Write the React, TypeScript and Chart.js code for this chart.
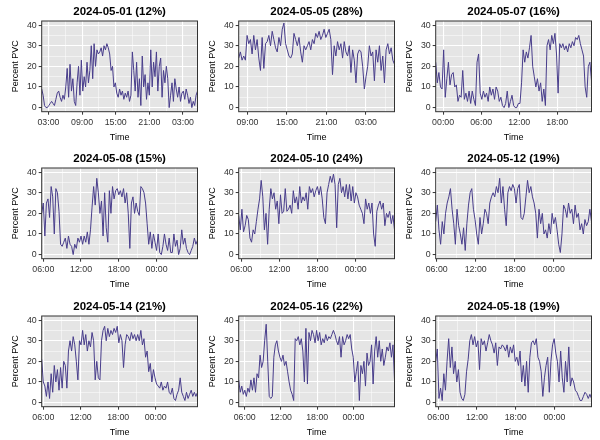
import React, { useEffect, useRef } from 'react';
import { Chart, registerables } from 'chart.js';

Chart.register(...registerables);

const titles = [
  '2024-05-01 (12%)', '2024-05-05 (28%)', '2024-05-07 (16%)',
  '2024-05-08 (15%)', '2024-05-10 (24%)', '2024-05-12 (19%)',
  '2024-05-14 (21%)', '2024-05-16 (22%)', '2024-05-18 (19%)',
];

// hours relative to midnight of the panel's first day
const startHours = [1.8, 7.67, -1.17, 5.75, 5.6, 5.85, 5.75, 5.0, 5.6];
const endHours = [29.6, 31.33, 23.4, 30.5, 30.1, 29.8, 30.7, 30.8, 29.75];

const xMajorTicks = [
  [3, 9, 15, 21, 27], [9, 15, 21, 27], [0, 6, 12, 18],
  [6, 12, 18, 24], [6, 12, 18, 24], [6, 12, 18, 24],
  [6, 12, 18, 24], [6, 12, 18, 24], [6, 12, 18, 24],
];
const yMajorTicks = [0, 10, 20, 30, 40];
const yMinorTicks = [5, 15, 25, 35];

const pvc0501 = [
  9, 6, 1, 0, 0,
  1, 2, 3, 2, 1, 4, 7, 8, 5, 3, 6, 4,
  10, 19, 5, 21, 8, 14, 3, 1, 12, 20, 6, 23,
  8, 15, 10, 22, 12, 18, 30, 14, 31, 20, 28, 26,
  27, 29, 25, 30, 28, 31, 29, 26, 18, 20, 10, 12,
  7, 5, 9, 6, 8, 4, 7, 5, 8, 3, 6, 27,
  18, 8, 22, 5, 14, 1, 25, 10, 16, 4, 12, 6,
  28, 10, 22, 15, 27, 8, 20, 24, 5, 18, 12, 20,
  14, 0, 6, 12, 3, 14, 9, 5, 10, 3, 7, 8,
  4, 9, 6, 2, 5, 0, 3, 1, 6, 8,
];
const pvc0505 = [
  24, 27, 23, 25, 23,
  35, 31, 33, 26, 35, 28, 33, 24, 18, 34, 19, 31,
  32, 35, 30, 37, 33, 29, 27, 34, 30, 38, 41, 31,
  28, 25, 24, 26, 36, 33, 30, 34, 27, 22, 30, 28,
  30, 32, 28, 33, 31, 36, 34, 37, 33, 35, 38, 34,
  36, 38, 33, 16, 30, 25, 32, 28, 31, 24, 32, 27,
  25, 30, 17, 28, 23, 12, 26, 28, 27, 20, 9, 15,
  20, 30, 25, 27, 13, 28, 22, 30, 18, 25, 12, 28,
  31, 26, 29, 23, 21,
];
const pvc0507 = [
  22, 12, 17, 10, 9,
  28, 5, 14, 22, 11, 16, 17, 10, 11, 3, 6, 5, 18, 4, 7, 3, 8, 2, 8, 4, 1, 22, 26, 7,
  4, 8, 5, 7, 3, 10, 6, 9, 4, 10, 8, 3, 5, 1, 0, 2, 8, 0, 3, 6, 1, 0, 0, 2,
  2, 12, 28, 22, 27, 24, 29, 35, 20, 15, 10, 14, 8, 12, 3, 9, 1, 30, 33, 28, 35, 31, 36, 26,
  7, 31, 29, 31, 28, 30, 27, 31, 29, 32, 30, 34, 33, 35, 31, 28, 25, 10, 5, 20, 22, 13,
];
const pvc0508 = [
  20, 25,
  9, 25, 27, 18, 33, 28, 10, 32, 30, 21, 5, 4, 6, 8, 3, 9, 5, 4, 0, 5, 3, 8, 6, 9,
  5, 9, 6, 11, 5, 12, 23, 33, 24, 37, 30, 20, 26, 9, 30, 13, 6, 31, 20, 33, 27, 31, 32, 29,
  31, 28, 32, 25, 30, 20, 3, 25, 28, 20, 25, 21, 19, 33, 32, 30, 25, 15, 5, 11, 3, 10, 6, 2,
  10, 1, 0, 4, 10, 5, 2, 8, 1, 1, 10, 4, 7, 0, 3, 12, 5, 8, 3, 1, 0, 2, 4, 8, 5, 7,
];
const pvc0510 = [
  19, 12,
  22, 11, 14, 19, 17, 8, 6, 12, 10, 16, 22, 27, 36, 28, 12, 20, 5, 22, 32, 27, 30, 22, 26, 15,
  29, 20, 21, 32, 21, 22, 24, 20, 31, 25, 28, 22, 33, 25, 28, 26, 30, 22, 33, 30, 32, 28, 31, 33,
  29, 33, 27, 18, 15, 30, 34, 38, 35, 39, 34, 13, 34, 37, 30, 33, 28, 34, 27, 34, 26, 33, 25, 30,
  28, 24, 22, 20, 15, 27, 22, 25, 20, 25, 10, 4, 21, 24, 26, 22, 25, 14, 20, 18, 21, 15, 19, 12,
];
const pvc0512 = [
  16,
  24, 12, 5, 16, 10, 20, 25, 28, 32, 22, 15, 5, 22, 14, 10, 5, 13, 2, 15, 24, 30, 32, 22, 17,
  10, 5, 18, 10, 15, 22, 20, 15, 25, 28, 30, 28, 33, 30, 37, 25, 33, 22, 14, 30, 33, 31, 34, 32,
  25, 32, 34, 18, 17, 20, 28, 36, 30, 33, 28, 25, 20, 8, 22, 15, 20, 10, 12, 8, 15, 10, 20, 15,
  18, 12, 5, 1, 10, 24, 22, 18, 25, 20, 22, 15, 24, 18, 20, 12, 15, 10, 17, 14, 16, 22, 16,
];
const pvc0514 = [
  21, 10,
  8, 3, 10, 2, 14, 5, 18, 10, 16, 6, 17, 7, 20, 18, 7, 25, 30, 25, 32, 28, 20, 11, 30, 28,
  35, 28, 33, 25, 30, 27, 34, 30, 11, 20, 12, 11, 30, 35, 37, 30, 36, 32, 35, 33, 36, 34, 37, 29,
  33, 30, 17, 28, 33, 32, 30, 34, 31, 33, 30, 33, 30, 35, 28, 31, 22, 25, 15, 19, 10, 16, 12, 9,
  8, 7, 10, 6, 8, 7, 10, 5, 4, 7, 2, 1, 4, 6, 12, 5, 3, 1, 5, 2, 4, 6, 3, 5, 3, 5,
];
const pvc0516 = [
  11, 5, 8, 4,
  6, 3, 7, 5, 11, 6, 12, 5, 14, 12, 23, 17, 20, 30, 38, 20, 3, 2, 3, 22, 28, 30, 25, 22,
  20, 23, 18, 20, 15, 10, 6, 4, 1, 31, 30, 32, 28, 31, 25, 10, 36, 9, 34, 30, 35, 33, 29, 35,
  30, 34, 28, 31, 29, 33, 30, 32, 31, 33, 35, 33, 30, 28, 32, 22, 32, 28, 30, 33, 31, 33, 26, 22,
  10, 15, 20, 1, 18, 14, 20, 8, 24, 18, 20, 28, 9, 25, 32, 22, 30, 20, 26, 18, 22, 27, 25, 29, 22, 28, 11,
];
const pvc0518 = [
  20, 26,
  2, 7, 1, 14, 6, 20, 31, 17, 27, 14, 20, 10, 16, 5, 2, 1, 4, 15, 21, 30, 33, 28, 32, 27,
  30, 16, 31, 28, 30, 25, 29, 33, 30, 28, 24, 29, 18, 27, 26, 28, 27, 25, 28, 22, 27, 24, 28, 20,
  22, 18, 25, 10, 18, 8, 20, 5, 22, 29, 30, 28, 31, 22, 20, 15, 3, 12, 18, 22, 5, 20, 28, 31,
  24, 20, 10, 25, 12, 5, 20, 10, 27, 8, 12, 10, 6, 5, 3, 1, 1, 3, 5, 4, 2, 4, 2,
];

const seriesList = [pvc0501, pvc0505, pvc0507, pvc0508, pvc0510, pvc0512, pvc0514, pvc0516, pvc0518];

const FONT = "'Liberation Sans', Arial, sans-serif";
const LINE_COLOR = '#483D8B';
const PANEL_BG = '#E5E5E5';
const CELL_W = 198;
const CELL_H = 147;
const COL_X = [0, 197, 394];
const ROW_Y = [0, 147, 295];

const fmtHour = (v: number) => {
  const h = ((Math.round(v) % 24) + 24) % 24;
  return (h < 10 ? '0' : '') + h + ':00';
};

const panelPlugin = {
  id: 'panelDecor',
  beforeDraw(chart: any) {
    const { ctx, chartArea: a } = chart;
    ctx.save();
    ctx.fillStyle = PANEL_BG;
    ctx.fillRect(a.left, a.top, a.right - a.left, a.bottom - a.top);
    ctx.restore();
  },
  afterDraw(chart: any) {
    const { ctx, chartArea: a } = chart;
    ctx.save();
    ctx.strokeStyle = '#333333';
    ctx.lineWidth = 1;
    ctx.strokeRect(a.left, a.top, a.right - a.left, a.bottom - a.top);
    ctx.restore();
  },
};

function Panel({ idx }: { idx: number }) {
  const ref = useRef<HTMLCanvasElement>(null);
  useEffect(() => {
    const vals = seriesList[idx];
    const s = startHours[idx];
    const e = endHours[idx];
    const n = vals.length;
    const data = vals.map((v, i) => ({ x: s + ((e - s) * i) / (n - 1), y: v }));
    const majors = xMajorTicks[idx];
    const minors = [majors[0] - 3, ...majors.map((m) => m + 3)].filter((v) => v >= s && v <= e);
    const xAll = [...majors, ...minors].sort((a, b) => a - b);
    const isXMajor = (v: number) => majors.indexOf(v) >= 0;
    const isYMajor = (v: number) => yMajorTicks.indexOf(v) >= 0;
    const tickFont = { family: FONT, size: 8.8 };
    const titleFont = { family: FONT, size: 9 };
    const chart = new Chart(ref.current as HTMLCanvasElement, {
      type: 'line',
      data: {
        datasets: [
          {
            data,
            borderColor: LINE_COLOR,
            borderWidth: 1,
            pointRadius: 0,
            tension: 0,
            fill: false,
          },
        ],
      },
      options: {
        responsive: false,
        animation: false,
        events: [],
        layout: { padding: { left: 0, right: 0.5, top: 0, bottom: 0 } },
        plugins: {
          legend: { display: false },
          tooltip: { enabled: false },
          title: {
            display: true,
            fullSize: false,
            text: titles[idx],
            color: '#000',
            font: { family: FONT, size: 11.5, weight: 'bold' },
            padding: { top: 5, bottom: 2.2 },
          },
        },
        scales: {
          x: {
            type: 'linear',
            min: s,
            max: e,
            afterFit: (sc: any) => {
              sc.height = 35.3;
            },
            afterBuildTicks: (sc: any) => {
              sc.ticks = xAll.map((v) => ({ value: v }));
            },
            border: { display: false },
            grid: {
              color: '#FFFFFF',
              lineWidth: (c: any) => (c.tick && isXMajor(c.tick.value) ? 1.1 : 0.5),
              tickColor: (c: any) => (c.tick && isXMajor(c.tick.value) ? '#333333' : 'rgba(0,0,0,0)'),
              tickWidth: 1,
              tickLength: 3,
            },
            ticks: {
              autoSkip: false,
              maxRotation: 0,
              padding: 3,
              color: '#333333',
              font: tickFont,
              callback: (v: any) => (isXMajor(Number(v)) ? fmtHour(Number(v)) : ''),
            },
            title: {
              display: true,
              text: 'Time',
              color: '#000',
              font: titleFont,
              padding: { top: 0, bottom: 3.6 },
            },
          },
          y: {
            type: 'linear',
            min: -2,
            max: 42,
            afterFit: (sc: any) => {
              sc.width = 41.7;
            },
            afterBuildTicks: (sc: any) => {
              sc.ticks = [...yMajorTicks, ...yMinorTicks].sort((a, b) => a - b).map((v) => ({ value: v }));
            },
            border: { display: false },
            grid: {
              color: '#FFFFFF',
              lineWidth: (c: any) => (c.tick && isYMajor(c.tick.value) ? 1.1 : 0.5),
              tickColor: (c: any) => (c.tick && isYMajor(c.tick.value) ? '#333333' : 'rgba(0,0,0,0)'),
              tickWidth: 1,
              tickLength: 3,
            },
            ticks: {
              autoSkip: false,
              padding: 2,
              color: '#333333',
              font: tickFont,
              callback: (v: any) => (isYMajor(Number(v)) ? String(v) : ''),
            },
            title: {
              display: true,
              text: 'Percent PVC',
              color: '#000',
              font: titleFont,
              padding: { top: 10, bottom: 0 },
            },
          },
        },
      } as any,
      plugins: [panelPlugin],
    });
    return () => chart.destroy();
  }, [idx]);
  const col = idx % 3;
  const row = Math.floor(idx / 3);
  return (
    <canvas
      ref={ref}
      width={CELL_W}
      height={CELL_H}
      style={{ position: 'absolute', left: COL_X[col], top: ROW_Y[row], width: CELL_W, height: CELL_H }}
    />
  );
}

export default function App() {
  return (
    <div style={{ position: 'absolute', left: 0, top: 0, width: 600, height: 440, background: '#fff', overflow: 'hidden' }}>
      {titles.map((_, i) => (
        <Panel key={i} idx={i} />
      ))}
    </div>
  );
}
